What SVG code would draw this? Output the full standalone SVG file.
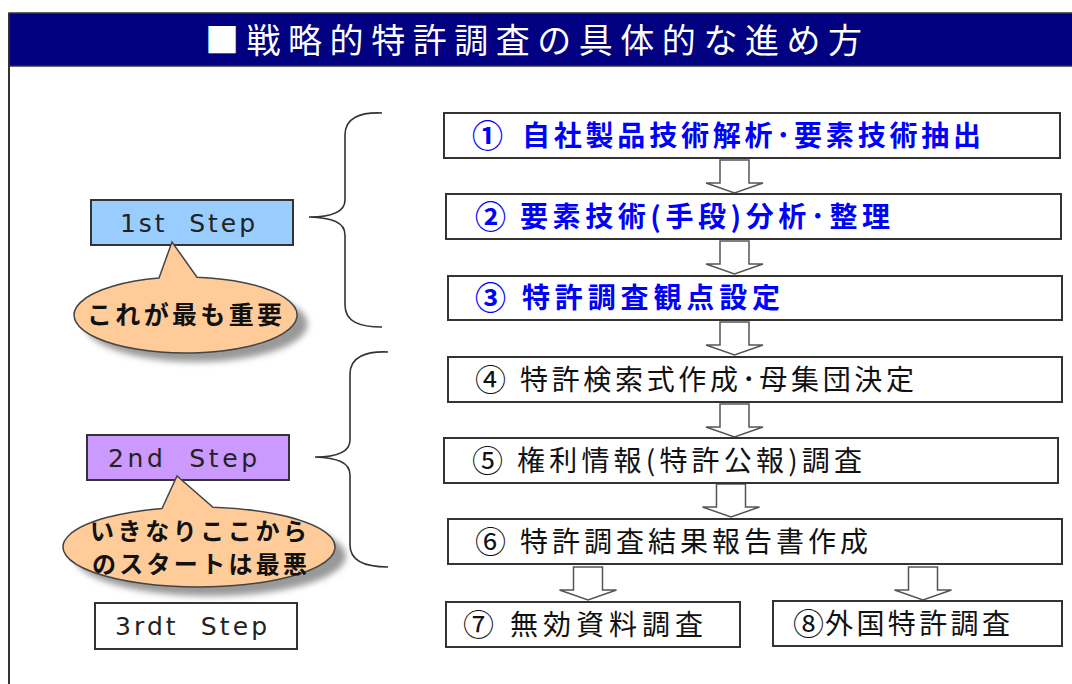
<svg xmlns="http://www.w3.org/2000/svg" width="1072" height="684" viewBox="0 0 1072 684">
<defs>
<style>
.box{fill:#fff;stroke:#333;stroke-width:2}
.jb{font-family:"Noto Sans CJK JP","Noto Sans",sans-serif;font-size:28px;fill:#0000ff;font-weight:bold}
.jn{font-family:"Noto Sans CJK JP","Noto Sans",sans-serif;font-size:28px;fill:#111}
.num{font-size:31px}
.st{font-family:"DejaVu Sans","Liberation Sans",sans-serif;font-size:25px;fill:#222}
.bt{font-family:"Noto Sans CJK JP","Noto Sans",sans-serif;font-size:25px;font-weight:bold;fill:#111}
.bt2{font-family:"Noto Sans CJK JP","Noto Sans",sans-serif;font-size:24px;font-weight:bold;fill:#111}
.arr{fill:#fff;stroke:#555;stroke-width:1.5;stroke-linejoin:miter}
.brace{fill:none;stroke:#333;stroke-width:1.6}
.bub{fill:#ffcc99;stroke:#444;stroke-width:1.5}
.shd{fill:#999;filter:url(#blur)}
</style>
<filter id="blur" x="-20%" y="-40%" width="140%" height="180%"><feGaussianBlur stdDeviation="3"/></filter>
<path id="darrow" d="M-14.5,0 H14.5 V23 H28.5 L0,33 L-28.5,23 H-14.5 Z"/>
</defs>
<rect width="1072" height="684" fill="#fff"/>
<g id="frame">
<line x1="9" y1="13" x2="9" y2="684" stroke="#333" stroke-width="2"/>
<rect x="9" y="13" width="1064" height="53" fill="#000080" stroke="#333" stroke-width="1.5"/>
<text x="205" y="53" font-family="'Noto Sans CJK JP','Noto Sans',sans-serif" font-size="34" fill="#fff" textLength="657" lengthAdjust="spacing">■戦略的特許調査の具体的な進め方</text>
</g>
<g id="connectors">
<use href="#darrow" class="arr" x="734.5" y="160"/>
<use href="#darrow" class="arr" x="734.5" y="241"/>
<use href="#darrow" class="arr" x="734.5" y="322"/>
<use href="#darrow" class="arr" x="734.5" y="404"/>
<use href="#darrow" class="arr" x="731" y="484"/>
<use href="#darrow" class="arr" x="588" y="567"/>
<use href="#darrow" class="arr" x="923" y="567"/>
<path class="brace" d="M382,113 C360,112 345,118 345,135 L345,200 C345,212 332,217 309,217 C332,218 345,222 345,235 L345,305 C345,322 360,327 382,327"/>
<path class="brace" d="M388,352 C366,351 350,357 350,374 L350,440 C350,452 337,457 315,457 C337,458 350,462 350,475 L350,545 C350,562 366,567 388,567"/>
</g>
<g id="n1"><rect class="box" x="444" y="113" width="616" height="45"/><text class="jb num" x="472" y="147">①</text><text class="jb" x="522" y="146" textLength="459" lengthAdjust="spacing">自社製品技術解析･要素技術抽出</text></g>
<g id="n2"><rect class="box" x="446" y="194" width="615" height="45"/><text class="jb num" x="475" y="228">②</text><text class="jb" x="520" y="227" textLength="370" lengthAdjust="spacing">要素技術(手段)分析･整理</text></g>
<g id="n3"><rect class="box" x="448" y="276" width="614" height="44"/><text class="jb num" x="475" y="309">③</text><text class="jb" x="522" y="308" textLength="258" lengthAdjust="spacing">特許調査観点設定</text></g>
<g id="n4"><rect class="box" x="448" y="357" width="614" height="45"/><text class="jn num" x="475" y="391">④</text><text class="jn" x="520" y="390" textLength="394" lengthAdjust="spacing">特許検索式作成･母集団決定</text></g>
<g id="n5"><rect class="box" x="444" y="438" width="614" height="45"/><text class="jn num" x="472" y="472">⑤</text><text class="jn" x="517" y="471" textLength="345" lengthAdjust="spacing">権利情報(特許公報)調査</text></g>
<g id="n6"><rect class="box" x="448" y="519" width="614" height="45"/><text class="jn num" x="475" y="553">⑥</text><text class="jn" x="520" y="552" textLength="348" lengthAdjust="spacing">特許調査結果報告書作成</text></g>
<g id="n7"><rect class="box" x="446" y="602" width="294" height="45"/><text class="jn num" x="463" y="636">⑦</text><text class="jn" x="510" y="635" textLength="193" lengthAdjust="spacing">無効資料調査</text></g>
<g id="n8"><rect class="box" x="773" y="601" width="289" height="45"/><text class="jn num" x="793" y="635">⑧</text><text class="jn" x="825" y="634" textLength="185" lengthAdjust="spacing">外国特許調査</text></g>
<g id="s1"><rect x="91" y="200" width="202" height="45" fill="#99ccff" stroke="#333" stroke-width="2"/><text class="st" x="120" y="232" textLength="135" lengthAdjust="spacing" xml:space="preserve">1st  Step</text></g>
<g id="s2"><rect x="87" y="435" width="202" height="45" fill="#cc99ff" stroke="#333" stroke-width="2"/><text class="st" x="108" y="467" textLength="149" lengthAdjust="spacing" xml:space="preserve">2nd  Step</text></g>
<g id="s3"><rect x="95" y="603" width="202" height="46" fill="#fff" stroke="#333" stroke-width="2"/><text class="st" x="115" y="635" textLength="152" lengthAdjust="spacing" xml:space="preserve">3rdt  Step</text></g>
<g id="b1">
<ellipse class="shd" cx="196" cy="324" rx="111.5" ry="38"/>
<path class="bub" d="M159,278.1 L172,242 L197,277.2 A111.5,38 0 1,1 159,278.1 Z"/>
<text class="bt" x="87" y="324" textLength="195" lengthAdjust="spacing">これが最も重要</text>
</g>
<g id="b2">
<ellipse class="shd" cx="210" cy="556" rx="136" ry="40"/>
<path class="bub" d="M162,508.5 L177,476 L213,507.2 A136,40 0 1,1 162,508.5 Z"/>
<text class="bt2" x="90" y="540" textLength="217" lengthAdjust="spacing">いきなりここから</text>
<text class="bt2" x="92" y="573" textLength="215" lengthAdjust="spacing">のスタートは最悪</text>
</g>
</svg>
